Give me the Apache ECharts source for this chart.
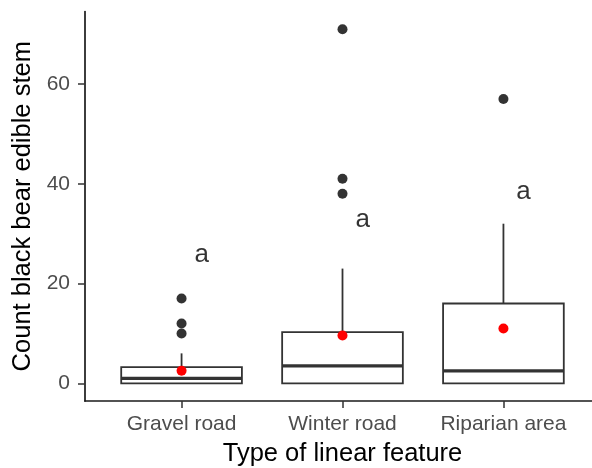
<!DOCTYPE html>
<html><head><meta charset="utf-8">
<script src="https://cdn.jsdelivr.net/npm/echarts@6/dist/echarts.min.js"></script>
<style>html,body{margin:0;padding:0;background:#fff}#c{width:592px;height:468px}</style>
</head><body><div id="c"></div>
<script>
const categories = ['Gravel road', 'Winter road', 'Riparian area'];
const whiskerLow = [0, 0, 0];
const q1 = [0, 0, 0];
const medians = [1, 3.5, 2.5];
const q3 = [3.25, 10.25, 16];
const whiskerHigh = [6, 23, 32];
const outliers = [[10, 12, 17], [38, 41, 71], [57]];
const means = [2.5, 9.6, 11];
const letters = ['a', 'a', 'a'];
const letterY = [25.7, 32.8, 38.45];
const yTicks = [0, 20, 40, 60];
const xTicks = [1, 2, 3];

const FONT = "'Liberation Sans', Arial, sans-serif";
const boxData = categories.map((c, i) => [i + 1, whiskerLow[i], q1[i], medians[i], q3[i], whiskerHigh[i]]);
const outlierData = [];
outliers.forEach((arr, i) => arr.forEach(v => outlierData.push([i + 1, v])));
const meanData = means.map((m, i) => [i + 1, m]);
const letterData = letters.map((l, i) => [i + 1.125, letterY[i]]);

const chart = echarts.init(document.getElementById('c'), null, {renderer: 'canvas'});
chart.setOption({
  animation: false,
  backgroundColor: '#fff',
  grid: {left: 85, width: 515, top: 11.5, bottom: 67, containLabel: false, outerBoundsMode: 'none'},
  xAxis: {
    type: 'value', min: 0.4, max: 3.6,
    name: 'Type of linear feature', nameLocation: 'middle', nameGap: 40,
    nameTextStyle: {fontFamily: FONT, fontSize: 25.5, color: '#000'},
    axisLine: {show: true, onZero: false, lineStyle: {color: '#1a1a1a', width: 1.7}},
    axisTick: {show: true, length: 7, customValues: xTicks, lineStyle: {color: '#333', width: 1.5}},
    axisLabel: {customValues: xTicks, margin: 13, fontFamily: FONT, fontSize: 21, color: '#4d4d4d',
      formatter: v => categories[Math.round(v) - 1] || ''},
    splitLine: {show: false}
  },
  yAxis: {
    type: 'value', min: -3.55, max: 74.55,
    name: 'Count black bear edible stem', nameLocation: 'middle', nameGap: 40,
    nameTextStyle: {fontFamily: FONT, fontSize: 25.5, color: '#000'},
    axisLine: {show: true, onZero: false, lineStyle: {color: '#1a1a1a', width: 1.7}},
    axisTick: {show: true, length: 7, customValues: yTicks, lineStyle: {color: '#333', width: 1.5}},
    axisLabel: {customValues: yTicks, margin: 15, fontFamily: FONT, fontSize: 21, color: '#4d4d4d'},
    splitLine: {show: false}
  },
  series: [
    {
      type: 'custom', silent: true, clip: false,
      data: boxData,
      encode: {x: 0, y: [1, 2, 3, 4, 5]},
      renderItem: function (params, api) {
        const x = api.value(0);
        const hw = api.size([0.75, 0])[0] / 2;
        const pLow = api.coord([x, api.value(1)]);
        const pQ1 = api.coord([x, api.value(2)]);
        const pMed = api.coord([x, api.value(3)]);
        const pQ3 = api.coord([x, api.value(4)]);
        const pHigh = api.coord([x, api.value(5)]);
        const st = {stroke: '#333', lineWidth: 1.8, fill: null};
        return {type: 'group', children: [
          {type: 'line', shape: {x1: pQ3[0], y1: pQ3[1], x2: pHigh[0], y2: pHigh[1]}, style: st},
          {type: 'line', shape: {x1: pQ1[0], y1: pQ1[1], x2: pLow[0], y2: pLow[1]}, style: st},
          {type: 'rect', shape: {x: pQ3[0] - hw, y: pQ3[1], width: 2 * hw, height: pQ1[1] - pQ3[1]},
            style: {fill: '#fff', stroke: '#333', lineWidth: 1.8}},
          {type: 'line', shape: {x1: pMed[0] - hw, y1: pMed[1], x2: pMed[0] + hw, y2: pMed[1]},
            style: {stroke: '#333', lineWidth: 3.2}}
        ]};
      }
    },
    {
      type: 'scatter', silent: true, data: outlierData, symbolSize: 10,
      itemStyle: {color: '#333', opacity: 1}
    },
    {
      type: 'scatter', silent: true, data: meanData, symbolSize: 10,
      itemStyle: {color: '#ff0000', opacity: 1}
    },
    {
      type: 'scatter', silent: true, data: letterData, symbolSize: 0,
      label: {show: true, position: 'inside', formatter: p => letters[p.dataIndex],
        fontFamily: FONT, fontSize: 26, color: '#000'}
    }
  ]
});
</script></body></html>
